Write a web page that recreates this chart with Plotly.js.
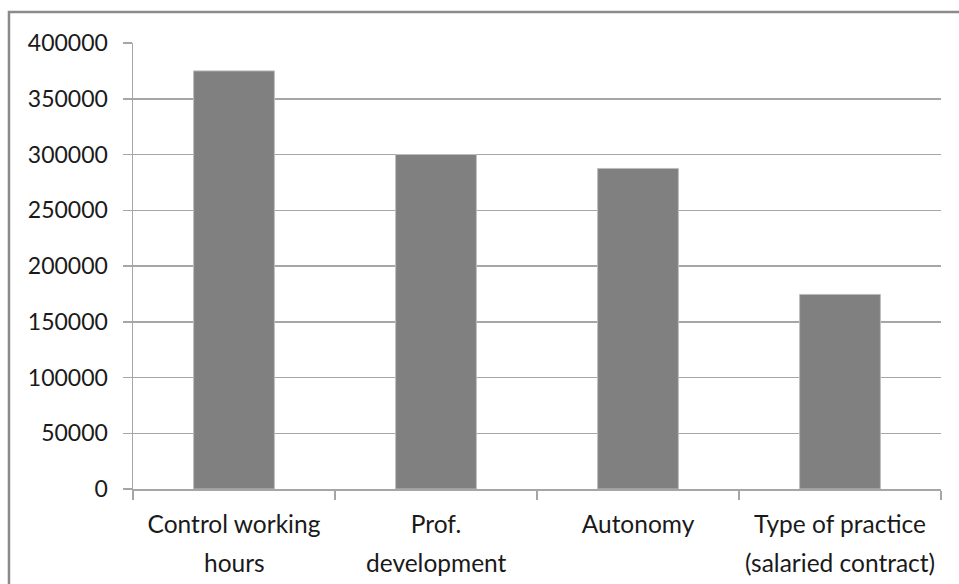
<!DOCTYPE html>
<html>
<head>
<meta charset="utf-8">
<script src="https://cdn.plot.ly/plotly-3.0.1.min.js"></script>
<style>
html,body{margin:0;padding:0;background:#fff;}
#chart{width:959px;height:584px;}
</style>
</head>
<body>
<div id="chart"></div>
<script>
const categories = ["Control working hours", "Prof. development", "Autonomy", "Type of practice (salaried contract)"];
const labelLine1 = ["Control working", "Prof.", "Autonomy", "Type of practice"];
const labelLine2 = ["hours", "development", "", "(salaried contract)"];
const values = [375000, 300000, 287500, 174500];
const yTicks = [0, 50000, 100000, 150000, 200000, 250000, 300000, 350000, 400000];

const FONT = "Lato, 'Open Sans', sans-serif";

const trace = {
  type: "bar",
  x: categories,
  y: values,
  width: 0.4,
  marker: {color: "#808080", line: {color: "#bdbdbd", width: 1}},
  hoverinfo: "skip"
};

const annotations = categories.map((c, i) => ({
  xref: "x", yref: "paper",
  x: c, y: 0,
  yanchor: "top", xanchor: "center",
  yshift: -57,
  text: labelLine2[i],
  showarrow: false,
  font: {family: FONT, size: 24.5, color: "#1a1a1a"}
})).filter(a => a.text !== "");

const layout = {
  width: 959,
  height: 584,
  margin: {l: 133, r: 18, t: 43, b: 95, pad: 0},
  paper_bgcolor: "#ffffff",
  plot_bgcolor: "#ffffff",
  showlegend: false,
  font: {family: FONT, size: 23, color: "#1a1a1a"},
  xaxis: {
    type: "category",
    tickvals: categories,
    ticktext: labelLine1,
    showline: true,
    linecolor: "#a6a6a6",
    linewidth: 1.5,
    ticks: "outside",
    tickson: "boundaries",
    ticklen: 9,
    tickcolor: "#a6a6a6",
    tickwidth: 1.5,
    showgrid: false,
    ticklabelstandoff: 13,
    tickfont: {family: FONT, size: 24.5, color: "#1a1a1a"}
  },
  yaxis: {
    range: [0, 400000],
    tickvals: yTicks,
    ticktext: yTicks.map(String),
    showline: true,
    linecolor: "#a6a6a6",
    linewidth: 1.5,
    ticks: "outside",
    ticklen: 9,
    tickcolor: "#a6a6a6",
    tickwidth: 1.5,
    showgrid: true,
    gridcolor: "#a6a6a6",
    gridwidth: 1.5,
    zeroline: false,
    ticklabelstandoff: 10,
    tickfont: {family: FONT, size: 23, color: "#1a1a1a"}
  },
  annotations: annotations,
  shapes: [{
    type: "rect",
    xref: "paper", yref: "paper",
    x0: -0.1535, x1: 1.3, y0: -0.6, y1: 1.0695,
    line: {color: "#8a8a8a", width: 2.5},
    fillcolor: "rgba(0,0,0,0)",
    layer: "below"
  }]
};

Plotly.newPlot("chart", [trace], layout, {displayModeBar: false, staticPlot: true});
</script>
</body>
</html>
